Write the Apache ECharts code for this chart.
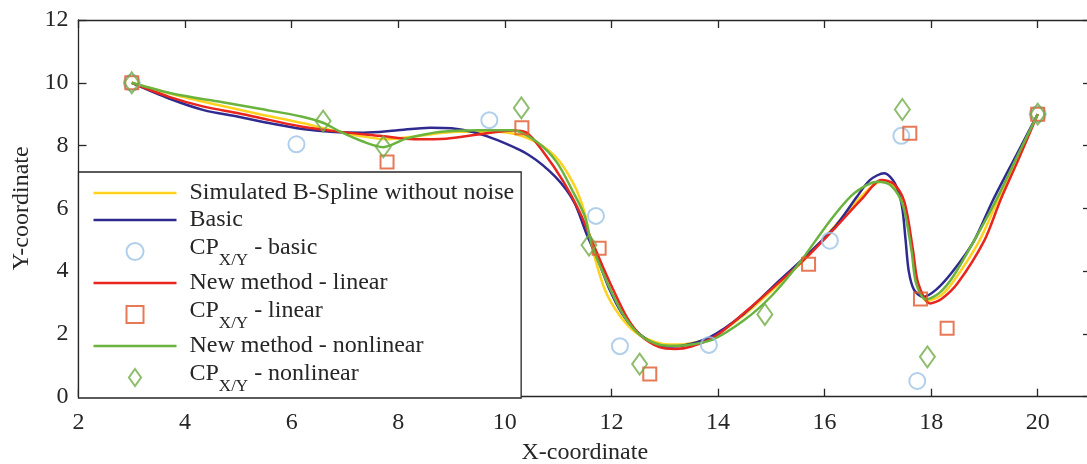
<!DOCTYPE html>
<html>
<head>
<meta charset="utf-8">
<script src="https://cdn.jsdelivr.net/npm/echarts@6.0.0/dist/echarts.min.js"></script>
<style>
  html, body { margin: 0; padding: 0; background: #fff; }
  #chart { width: 1087px; height: 464px; }
</style>
</head>
<body>
<div id="chart"></div>
<script>
  // curves, [x, y]
  var simulatedCurve = [[3,10],[3.8,9.62],[4.6,9.3],[5.4,9.0],[6.2,8.72],[6.72,8.5],[7.3,8.3],[7.8,8.2],[8.35,8.3],[9.1,8.44],[9.85,8.44],[10.45,8.22],[10.95,7.65],[11.3,6.75],[11.5,5.85],[11.63,4.8],[11.88,3.4],[12.15,2.6],[12.45,2.05],[12.8,1.75],[13.1,1.66],[13.4,1.68],[13.9,1.92],[14.5,2.62],[15.2,3.68],[15.7,4.5],[16.2,5.45],[16.7,6.4],[17.05,6.85],[17.3,6.72],[17.48,6.15],[17.64,4.7],[17.74,3.6],[17.92,3.05],[18.2,3.25],[18.45,3.75],[18.9,4.95],[19.25,6.26],[19.62,7.65],[20,9]];
  var basicCurve = [[3,10],[3.7,9.5],[4.35,9.13],[5,8.92],[5.6,8.71],[6.2,8.53],[6.8,8.43],[7.35,8.41],[7.95,8.48],[8.6,8.57],[9,8.55],[9.4,8.43],[9.85,8.18],[10.45,7.7],[10.95,7.0],[11.3,6.2],[11.53,5.2],[11.75,4.35],[11.97,3.4],[12.2,2.65],[12.45,2.12],[12.75,1.74],[13.05,1.6],[13.35,1.63],[13.85,1.9],[14.47,2.62],[15.15,3.7],[15.6,4.4],[16.2,5.42],[16.6,6.35],[16.85,6.9],[17.12,7.12],[17.32,6.8],[17.45,6.1],[17.52,5.0],[17.58,4.0],[17.68,3.4],[17.85,3.18],[18.1,3.42],[18.4,3.98],[18.8,4.95],[19.16,6.26],[19.6,7.7],[20,9]];
  var linearCurve = [[3,10],[3.7,9.55],[4.35,9.24],[5,9.03],[5.6,8.81],[6.2,8.6],[6.8,8.46],[7.65,8.31],[8.3,8.2],[8.9,8.22],[9.5,8.35],[10.15,8.48],[10.4,8.42],[10.72,7.8],[11.1,6.85],[11.4,5.9],[11.65,4.9],[11.85,4.1],[12.05,3.35],[12.3,2.5],[12.55,1.95],[12.9,1.58],[13.2,1.52],[13.5,1.6],[13.95,1.92],[14.5,2.68],[15.2,3.72],[15.7,4.5],[16.2,5.38],[16.7,6.3],[17.07,6.9],[17.3,6.78],[17.5,6.2],[17.66,4.67],[17.76,3.6],[17.98,2.97],[18.2,3.12],[18.5,3.62],[19.0,4.98],[19.3,6.26],[19.65,7.6],[20,9]];
  var nonlinearCurve = [[3,10],[3.8,9.64],[4.6,9.41],[5.4,9.17],[6.2,8.92],[6.6,8.72],[6.9,8.45],[7.35,8.12],[7.72,7.95],[8.15,8.22],[8.8,8.44],[9.5,8.49],[10.15,8.49],[10.6,8.12],[10.97,7.48],[11.28,6.53],[11.5,5.75],[11.62,4.9],[11.78,4.2],[11.98,3.42],[12.22,2.62],[12.48,2.05],[12.78,1.72],[13.08,1.62],[13.4,1.64],[13.9,1.82],[14.5,2.45],[15.0,3.2],[15.5,4.2],[16.1,5.6],[16.5,6.4],[16.8,6.75],[17.0,6.85],[17.25,6.72],[17.47,6.1],[17.63,4.67],[17.72,3.6],[17.9,3.1],[18.15,3.3],[18.41,3.82],[18.8,4.95],[19.22,6.26],[19.6,7.6],[20,9]];

  // control points
  var cpBasic = [[3,10],[6.09,8.04],[9.71,8.81],[11.71,5.76],[12.16,1.61],[13.83,1.65],[16.1,4.97],[17.44,8.31],[17.74,0.5],[20,9]];
  var cpLinear = [[3,10],[7.79,7.48],[10.32,8.57],[11.77,4.73],[12.72,0.72],[15.7,4.22],[17.6,8.39],[17.8,3.11],[18.3,2.18],[20,9]];
  var cpNonlinear = [[3,10],[6.59,8.78],[7.72,7.96],[10.31,9.2],[11.58,4.83],[12.53,1.04],[14.88,2.62],[17.46,9.15],[17.93,1.27],[20,9]];

  var seriesNames = ['Simulated B-Spline without noise', 'Basic', 'CP - basic', 'New method - linear', 'CP - linear', 'New method - nonlinear', 'CP - nonlinear'];

  var font = 'Liberation Serif';
  var ink = '#262626';
  var cYellow = '#FFD21F', cNavy = '#2F2A8F', cRed = '#E8251E', cGreen = '#6AB33E';
  var cCircle = '#9DC3E6', cSquare = '#E2582C', cDiamond = '#70AD47';
  var squarePath = 'path://M0,0H10V10H0Z';
  var diamondPath = 'path://M5,0L10,7L5,14L0,7Z';
  var dashPath = 'path://M0,0H83V2.6H0Z';

  function lineSeries(name, data, color, z) {
    return {
      type: 'line', name: name, data: data, symbol: 'none', smooth: 0.3,
      lineStyle: { color: color, width: 2.5 }, itemStyle: { color: color }, z: z
    };
  }
  function cpSeries(name, data, symbol, size, color) {
    return {
      type: 'scatter', name: name, data: data, symbol: symbol, symbolSize: size,
      itemStyle: { color: 'rgba(0,0,0,0)', borderColor: color, borderWidth: 2 }, z: 10
    };
  }
  function lineIcon(name, color) {
    return { name: name, icon: dashPath, itemStyle: { color: color, borderWidth: 0 } };
  }
  function markIcon(name, icon, color) {
    return { name: name, icon: icon, itemStyle: { color: 'rgba(0,0,0,0)', borderColor: color, borderWidth: 2 } };
  }

  function axisX(pos, withLabels) {
    return {
      type: 'value', position: pos, min: 2, max: 21, interval: 2,
      axisLine: { show: true, onZero: false, lineStyle: { color: ink, width: 1.3 } },
      axisTick: { show: true, inside: true, length: 8, lineStyle: { color: ink, width: 1.3 } },
      axisLabel: { show: withLabels, color: ink, fontFamily: font, fontSize: 24, margin: 14, showMaxLabel: false },
      splitLine: { show: false },
      name: withLabels ? 'X-coordinate' : '', nameLocation: 'middle', nameGap: 44,
      nameTextStyle: { color: ink, fontFamily: font, fontSize: 24 }
    };
  }
  function axisY(pos, withLabels) {
    return {
      type: 'value', position: pos, min: 0, max: 12, interval: 2,
      axisLine: { show: true, onZero: false, lineStyle: { color: ink, width: 1.3 } },
      axisTick: { show: true, inside: true, length: 8, lineStyle: { color: ink, width: 1.3 } },
      axisLabel: { show: withLabels, color: ink, fontFamily: font, fontSize: 24, margin: 10 },
      splitLine: { show: false },
      name: withLabels ? 'Y-coordinate' : '', nameLocation: 'middle', nameGap: 45,
      nameTextStyle: { color: ink, fontFamily: font, fontSize: 24 }
    };
  }

  var chart = echarts.init(document.getElementById('chart'));
  chart.setOption({
    backgroundColor: '#fff',
    animation: false,
    grid: { left: 78.5, right: -4, top: 20, bottom: 67.3, containLabel: false, outerBoundsMode: 'none' },
    xAxis: [axisX('bottom', true), axisX('top', false)],
    yAxis: [axisY('left', true), axisY('right', false)],
    legend: {
      orient: 'vertical', left: 78.5, top: 172,
      padding: [8, 7, 3, 15], itemGap: 1,
      itemWidth: 83, itemHeight: 17,
      backgroundColor: '#fff', borderColor: ink, borderWidth: 1.3,
      selectedMode: false,
      textStyle: {
        color: ink, fontFamily: font, fontSize: 24, lineHeight: 26, padding: [0, 0, 0, 8],
        rich: {
          m: { color: ink, fontFamily: font, fontSize: 24, lineHeight: 26, padding: [0, 0, 8, 0] },
          s: { color: ink, fontFamily: font, fontSize: 17, lineHeight: 16, padding: [18, 0, 0, 0] }
        }
      },
      formatter: function (name) {
        if (name.indexOf('CP') === 0) {
          return '{m|CP}{s|X/Y}{m|' + name.slice(2) + '}';
        }
        return name;
      },
      data: [
        lineIcon(seriesNames[0], cYellow),
        lineIcon(seriesNames[1], cNavy),
        markIcon(seriesNames[2], 'circle', cCircle),
        lineIcon(seriesNames[3], cRed),
        markIcon(seriesNames[4], squarePath, cSquare),
        lineIcon(seriesNames[5], cGreen),
        markIcon(seriesNames[6], diamondPath, cDiamond)
      ]
    },
    series: [
      lineSeries(seriesNames[0], simulatedCurve, cYellow, 2),
      lineSeries(seriesNames[1], basicCurve, cNavy, 3),
      cpSeries(seriesNames[2], cpBasic, 'circle', 16, cCircle),
      lineSeries(seriesNames[3], linearCurve, cRed, 4),
      cpSeries(seriesNames[4], cpLinear, squarePath, [13, 13], cSquare),
      lineSeries(seriesNames[5], nonlinearCurve, cGreen, 5),
      cpSeries(seriesNames[6], cpNonlinear, diamondPath, [15, 21], cDiamond)
    ]
  });
</script>
</body>
</html>
